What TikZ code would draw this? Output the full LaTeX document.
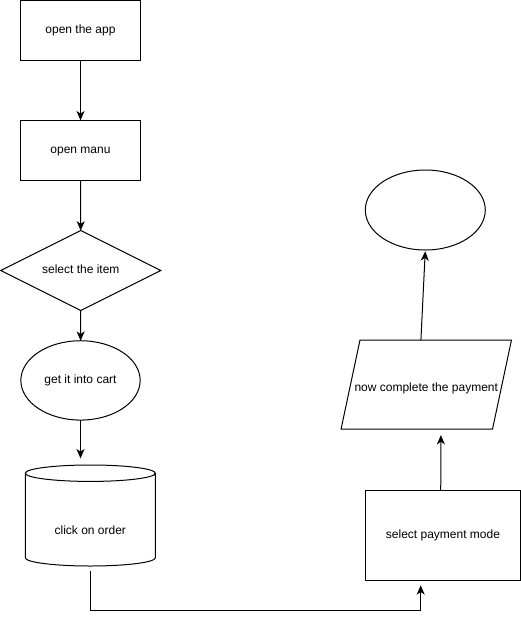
\documentclass[tikz,border=0pt]{standalone}
\usepackage{fontspec}
\setmainfont{Liberation Sans}
\usetikzlibrary{arrows.meta,shapes.geometric}
\tikzset{
	box/.style={draw, line width=0.75pt, inner sep=0pt, outer sep=0pt, align=center, text height=6.8pt, text depth=2pt, font=\fontsize{9}{11}\selectfont},
	flow/.style={line width=0.75pt, -{Stealth[length=7pt,width=6pt,inset=2pt]}}
}

\begin{document}
\begin{tikzpicture}[x=0.75pt, y=-0.75pt]
			%%%%% START %%%%%
			
			\useasboundingbox (0, 0) rectangle (521, 619);
			
			\node[box, rectangle, minimum width=90pt, minimum height=45pt] (app) at (80.5, 30.2) {open the app};
			\node[box, rectangle, minimum width=90pt, minimum height=45pt] (menu) at (80.5, 150.3) {open manu};
			\node[box, diamond, aspect=2, minimum width=120pt, minimum height=60pt] (item) at (80.8, 270.5) {select the item};
			\node[box, ellipse, minimum width=89.5pt, minimum height=59.5pt] (cart) at (80.5, 380.4) {get it into cart};
			\node[box, cylinder, shape border rotate=90, aspect=0.23, minimum width=97.5pt, minimum height=75.75pt, anchor=shape center] (order) at (90.3, 515.5) {\raisebox{-8.5pt}{click on order}};
			
			\node[box, rectangle, minimum width=116pt, minimum height=67.5pt] (mode) at (443, 535.3) {select payment mode};
			\node[box, draw=none, rectangle, minimum width=113.6pt, minimum height=66.75pt] (pay) at (426.25, 384.6) {\raisebox{-2.5pt}{now complete the payment}};
			\draw[line width=0.75pt] ([xshift=7.1pt]pay.north west) -- ([xshift=7.1pt]pay.north east) -- ([xshift=-7.1pt]pay.south east) -- ([xshift=-7.1pt]pay.south west) -- cycle;
			\node[box, ellipse, minimum width=90pt, minimum height=60pt] (finish) at (425.3, 210) {};
			
			\coordinate (turn) at (420.7, 610.3);
			
			\draw[flow] (app) -- (menu);
			\draw[flow] (menu) -- (item);
			\draw[flow] (item) -- (cart);
			\draw[flow, shorten >=5pt] (cart.south) -- (cart.south |- order.north);
			
			\draw[flow, shorten <=3.5pt, shorten >=3.75pt] (order.south) |- (turn) -- (turn |- mode.south);
			\draw[flow, shorten >=4.5pt] ([xshift=-1.7pt]mode.north) -- ([xshift=11pt]pay.south);
			\draw[flow, shorten >=1pt] ([xshift=-4pt]pay.north) -- (finish.south);
			
			%%%%% END %%%%%
		\end{tikzpicture}
\end{document}
